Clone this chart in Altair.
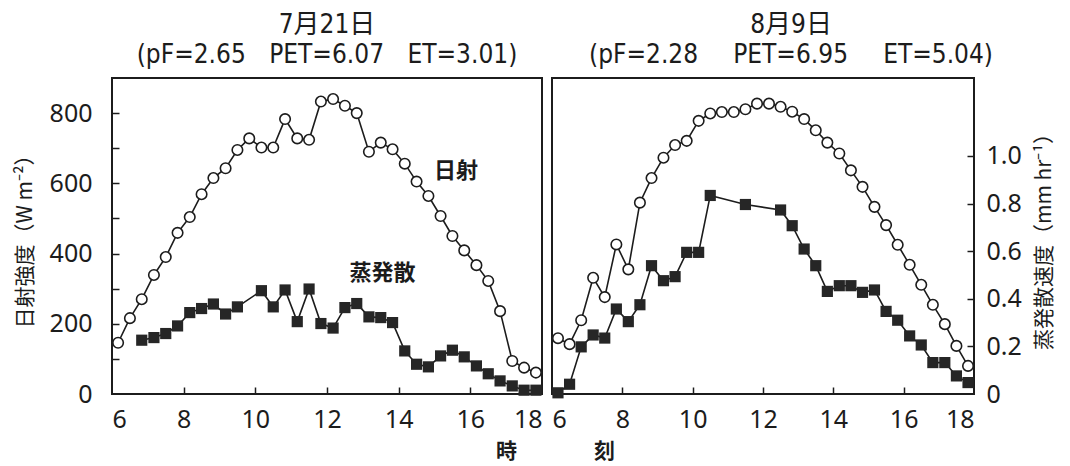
import altair as alt
import pandas as pd

# ---- data (20-minute means, hour of day) ----
hours = [6.17, 6.5, 6.83, 7.17, 7.5, 7.83, 8.17, 8.5, 8.83, 9.17, 9.5, 9.83,
         10.17, 10.5, 10.83, 11.17, 11.5, 11.83, 12.17, 12.5, 12.83, 13.17, 13.5, 13.83,
         14.17, 14.5, 14.83, 15.17, 15.5, 15.83, 16.17, 16.5, 16.83, 17.17, 17.5, 17.83]

# 7月21日  solar radiation (W m-2) and evapotranspiration (mm hr-1)
rad_0721 = [146, 216, 270, 339, 390, 459, 504, 569, 615, 643, 695, 728,
            702, 702, 783, 728, 724, 833, 840, 821, 800, 690, 716, 697,
            656, 605, 564, 507, 450, 409, 367, 322, 236, 94, 75, 61]
et_0721 = [None, None, 0.226, 0.237, 0.254, 0.286, 0.342, 0.359, 0.378, 0.336, 0.366, None,
           0.434, 0.366, 0.437, 0.304, 0.441, 0.296, 0.277, 0.363, 0.380, 0.324, 0.321, 0.300,
           0.181, 0.125, 0.114, 0.160, 0.184, 0.156, 0.118, 0.085, 0.055, 0.034, 0.016, 0.016]

# 8月9日
rad_0809 = [159, 142, 210, 331, 276, 426, 355, 545, 615, 673, 709, 721,
            778, 799, 803, 803, 811, 827, 827, 818, 804, 783, 751, 716,
            685, 637, 590, 533, 481, 425, 368, 311, 254, 199, 137, 80]
et_0809 = [0.005, 0.041, 0.198, 0.248, 0.235, 0.357, 0.304, 0.375, 0.539, 0.476, 0.493, 0.595,
           0.595, 0.834, None, None, 0.796, None, None, 0.773, 0.707, 0.609, 0.539, 0.431,
           0.455, 0.455, 0.427, 0.437, 0.347, 0.310, 0.244, 0.206, 0.132, 0.132, 0.076, 0.048]

x_ticks = [6, 8, 10, 12, 14, 16, 18]
inner_x_ticks = [8, 10, 12, 14, 16]
rad_ticks = [0, 100, 200, 300, 400, 500, 600, 700, 800]
rad_inner_ticks = [100, 200, 300, 400, 500, 600, 700, 800]
et_ticks = [0, 0.2, 0.4, 0.6, 0.8, 1.0]
et_inner_ticks = [0.2, 0.4, 0.6, 0.8, 1.0]

annot_text = ["日射", "蒸発散"]
annot_t = [15.6, 13.55]
annot_w = [635, 345]

GAP = "\u2003"
GAP_R = "\u2003\u2002"
title_0721 = ["7月21日", "(pF=2.65" + GAP + "PET=6.07" + GAP + "ET=3.01)"]
title_0809 = ["8月9日", "(pF=2.28" + GAP_R + "PET=6.95" + GAP_R + "ET=5.04)"]

# ---- style ----
INK = "#1c1c1c"
NUM_FONT = "Noto Sans"
CJK_FONT = "Noto Sans CJK JP"
TITLE_FONT = "Liberation Sans Narrow, DejaVu Sans Condensed, Noto Sans CJK JP"
RAD_MAX = 900
ET_MAX = 900 / 678.0
H = 316


def xscale():
    return alt.Scale(domain=[6, 18], nice=False, zero=False)


def wscale():
    return alt.Scale(domain=[0, RAD_MAX], nice=False, zero=False)


def escale():
    return alt.Scale(domain=[0, ET_MAX], nice=False, zero=False)


def x_label_axis(title, title_x):
    return alt.Axis(values=x_ticks, ticks=False, tickSize=0, domain=False, grid=False,
                    labelFlush=True, labelFont=NUM_FONT, labelFontSize=25, labelColor=INK,
                    labelPadding=13, orient="bottom",
                    title=title, titleX=title_x, titleY=57, titleBaseline="middle",
                    titleAlign="center", titleFont=CJK_FONT, titleFontSize=21,
                    titleFontWeight="bold", titleColor=INK)


def x_tick_axis():
    return alt.Axis(values=inner_x_ticks, labels=False, domain=False, grid=False, ticks=True,
                    tickSize=7, tickWidth=1.5, tickColor=INK, offset=-7, orient="bottom",
                    title=None)


def panel(rad, et, width, title_lines, title_dx, xtitle, xtitle_x, left):
    df = pd.DataFrame({"t": hours, "rad": rad, "et": et})
    base = alt.Chart(df)

    if left:
        rad_axis = alt.Axis(orient="left", values=rad_ticks,
                            labelExpr="datum.value % 200 == 0 ? datum.label : ''",
                            ticks=False, tickSize=0, domain=False, grid=False,
                            labelFont=NUM_FONT, labelFontSize=25, labelColor=INK, labelPadding=20,
                            title="日射強度（W m⁻²）", titleFont=CJK_FONT, titleFontSize=21,
                            titleFontWeight="normal", titleColor=INK, titlePadding=14)
        rad_tick_axis = alt.Axis(orient="left", values=rad_inner_ticks, labels=False,
                                 domain=False, grid=False, ticks=True, tickSize=7,
                                 tickWidth=1.5, tickColor=INK, offset=-7, title=None)
        et_axis = None
        et_tick_axis = None
    else:
        rad_axis = None
        rad_tick_axis = None
        et_axis = alt.Axis(orient="right", values=et_ticks,
                           labelExpr="datum.value == 0 ? '0' : format(datum.value, '.1f')",
                           ticks=False, tickSize=0, domain=False, grid=False,
                           labelFont=NUM_FONT, labelFontSize=25, labelColor=INK, labelPadding=12,
                           title="蒸発散速度（mm hr⁻¹）", titleFont=CJK_FONT, titleFontSize=21,
                           titleFontWeight="normal", titleColor=INK, titlePadding=12,
                           titleAngle=270, titleBaseline="top")
        et_tick_axis = alt.Axis(orient="right", values=et_inner_ticks, labels=False,
                                domain=False, grid=False, ticks=True, tickSize=7,
                                tickWidth=1.5, tickColor=INK, offset=-7, title=None)

    rad_line = base.mark_line(color=INK, strokeWidth=1.6).encode(
        x=alt.X("t:Q", scale=xscale(), axis=x_label_axis(xtitle, xtitle_x)),
        y=alt.Y("rad:Q", scale=wscale(), axis=rad_axis),
    )
    et_line = base.transform_filter("isValid(datum.et)").mark_line(
        color=INK, strokeWidth=1.6).encode(
        x=alt.X("t:Q", scale=xscale(), axis=None),
        y=alt.Y("et:Q", scale=escale(), axis=et_axis),
    )
    rad_pts = base.mark_point(shape="circle", filled=True, fill="white", stroke=INK,
                              strokeWidth=1.6, size=110, opacity=1).encode(
        x=alt.X("t:Q", scale=xscale(), axis=x_tick_axis()),
        y=alt.Y("rad:Q", scale=wscale(), axis=rad_tick_axis),
    )
    et_pts = base.transform_filter("isValid(datum.et)").mark_square(
        color="#262626", size=125, opacity=1).encode(
        x=alt.X("t:Q", scale=xscale(), axis=None),
        y=alt.Y("et:Q", scale=escale(), axis=et_tick_axis),
    )
    layers = [rad_line, et_line, rad_pts, et_pts]
    if left:
        adf = pd.DataFrame({"label": annot_text, "t": annot_t, "w": annot_w})
        txt = alt.Chart(adf).mark_text(font=CJK_FONT, fontSize=22, fontWeight="bold",
                                       color=INK).encode(
            x=alt.X("t:Q", scale=xscale(), axis=None),
            y=alt.Y("w:Q", scale=wscale(), axis=None),
            text="label:N",
        )
        layers.append(txt)

    return alt.layer(*layers).resolve_scale(x="independent", y="independent").resolve_axis(
        x="independent", y="independent").properties(
        width=width, height=H,
        title=alt.TitleParams(text=title_lines, font=TITLE_FONT, fontSize=26,
                              fontWeight="normal", color=INK, lineHeight=30, offset=10,
                              anchor="middle", dx=title_dx),
    )


left_panel = panel(rad_0721, et_0721, 430, title_0721, 0, "時", 394, True)
right_panel = panel(rad_0809, et_0809, 422, title_0809, 28, "刻", 52, False)

chart = alt.hconcat(left_panel, right_panel, spacing=10, bounds="flush").properties(
    padding={"left": 5, "top": 3, "right": 2, "bottom": 0},
    background="white",
).configure_view(stroke=INK, strokeWidth=2)

chart.save("out.html", embed_options={"renderer": "svg", "actions": False})
